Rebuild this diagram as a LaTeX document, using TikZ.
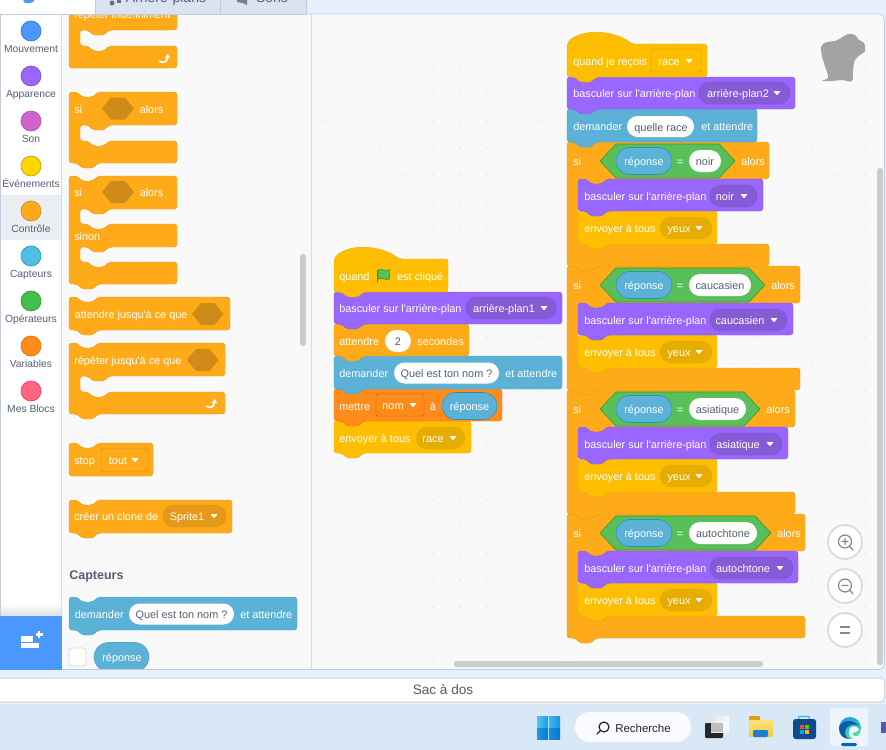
\documentclass[tikz,border=0pt]{standalone}
\usepackage{fontspec}
\usetikzlibrary{arrows.meta}
\newfontfamily\libf{Liberation Sans}
\definecolor{ctrl}{HTML}{FFAB19}\definecolor{ctrlD}{HTML}{E69C1E}\definecolor{ctrlH}{HTML}{CF8B17}
\definecolor{looks}{HTML}{9966FF}\definecolor{looksD}{HTML}{8A5CE6}\definecolor{looksP}{HTML}{855CD6}\definecolor{looksE}{HTML}{774DCB}
\definecolor{sens}{HTML}{5CB1D6}\definecolor{sensD}{HTML}{4FA6CC}\definecolor{sensE}{HTML}{2E8EB8}
\definecolor{evt}{HTML}{FFBF00}\definecolor{evtD}{HTML}{E0AC10}\definecolor{evtP}{HTML}{E6AC00}
\definecolor{vari}{HTML}{FF8C1A}\definecolor{variD}{HTML}{E87A10}
\definecolor{oper}{HTML}{59C059}\definecolor{operD}{HTML}{389438}
\definecolor{ink}{HTML}{575E75}\definecolor{panel}{HTML}{F9F9F9}\definecolor{edge}{HTML}{C1CBDF}
\definecolor{tabc}{HTML}{D9E3F2}\definecolor{pale}{HTML}{E6F0FF}\definecolor{taskb}{HTML}{D9E8F6}
\definecolor{gray1}{HTML}{D9D9D9}\definecolor{sprite}{HTML}{A3A3A3}\definecolor{extb}{HTML}{4C97FF}
\definecolor{selcat}{HTML}{E9EEF2}
\tikzset{
  blk/.style={line width=.35pt,rounded corners=2.2pt},
  bctrl/.style={blk,fill=ctrl,draw=ctrlD},
  blooks/.style={blk,fill=looks,draw=looksD},
  bsens/.style={blk,fill=sens,draw=sensD},
  bevt/.style={blk,fill=evt,draw=evtD},
  bvar/.style={blk,fill=vari,draw=variD},
  plooks/.style={fill=looksP,draw=looksE,line width=.25pt},
  pevt/.style={fill=evtP,draw=evtD,line width=.25pt},
  pctrl/.style={fill=ctrlH!55!ctrl,draw=ctrlH,line width=.25pt},
  pwhite/.style={fill=white,draw=none},
  psens/.style={fill=sens,draw=sensE,line width=.4pt},
  wt/.style={anchor=west,inner sep=0pt,text height=7.2pt,text depth=0pt,text=white,font=\libf\fontsize{8.15}{10}\selectfont},
  wc/.style={wt,anchor=center},
  dc/.style={wc,text=ink},
  catlab/.style={anchor=center,inner sep=0pt,text height=6.4pt,text depth=0pt,text=ink,font=\libf\fontsize{7.75}{9}\selectfont},
  cat/.style={line width=.5pt},
  zoombtn/.style={fill=white,draw=gray1,line width=1.2pt},
  zoomink/.style={draw=ink!75,line width=.9pt,line cap=round},
  rept/.style={draw=white,line width=1.3pt,-{Stealth[length=3.4pt,width=4.6pt]}},
  griddot/.style={fill=black!14},
  tabtxt/.style={wc,text=ink,font=\libf\fontsize{10.5}{12}\selectfont}
}
\newcount\tnum
\newcommand\Tx[4][wt]{\global\advance\tnum by 1 \node[#1] (t\the\tnum) at ({#2},{#3}) {#4};}
\def\ETop#1#2#3{(#1,#2) -- ({#1+8},#2) -- ({#1+13},{#2+5}) -- ({#1+24},{#2+5}) -- ({#1+29},#2) -- (#3,#2)}
\def\EBot#1#2#3{-- (#2,#3) -- ({#1+29},#3) -- ({#1+24},{#3+5}) -- ({#1+13},{#3+5}) -- ({#1+8},#3) -- (#1,#3)}
\def\ECm#1#2#3#4{-- (#2,#3) -- ({#1+29},#3) -- ({#1+24},{#3+5}) -- ({#1+13},{#3+5}) -- ({#1+8},#3) -- (#1,#3) -- (#1,#4) -- ({#1+8},#4) -- ({#1+13},{#4+5}) -- ({#1+24},{#4+5}) -- ({#1+29},#4) -- (#2,#4)}
\newcommand\Bk[5]{\draw[#1] \ETop{#2}{#3}{#4} \EBot{#2}{#4}{#5} -- cycle;}
\newcommand\Ht[5]{\draw[#1] (#2,#3) .. controls ({#2+12},{#3-15}) and ({#2+45},{#3-15}) .. ({#2+65},#3) -- (#4,#3) \EBot{#2}{#4}{#5} -- cycle;}
\newcommand\Cb[8]{\draw[#1] \ETop{#2}{#3}{#4} \ECm{#6}{#4}{#5}{#7} \EBot{#2}{#4}{#8} -- cycle;}
\newcommand\Pl[5]{\pgfmathsetlengthmacro\prad{#4*0.375pt}\draw[#5,rounded corners=\prad] (#1,{#3-#4/2}) rectangle (#2,{#3+#4/2});}
\newcommand\Rc[5]{\draw[#5,rounded corners=1.5pt] (#1,{#3-#4/2}) rectangle (#2,{#3+#4/2});}
\newcommand\Hx[6]{\fill[#6] (#1,#3) -- ({#1+#5},{#3-#4/2}) -- ({#2-#5},{#3-#4/2}) -- (#2,#3) -- ({#2-#5},{#3+#4/2}) -- ({#1+#5},{#3+#4/2}) -- cycle;}
\newcommand\DD[2]{\fill[white,rounded corners=.4pt] ({#1-3.6},{#2-1.8}) -- ({#1+3.6},{#2-1.8}) -- (#1,{#2+2.2}) -- cycle;}
\newcommand\Rp[2]{\draw[rept] (#1,{#2+7}) .. controls ({#1+4},{#2+10}) and ({#1+8.5},{#2+8}) .. ({#1+8.5},#2);}
\newcommand\SIG[8]{%
  \Cb{bctrl}{567}{\the\numexpr142+#1\relax}{#2}{\the\numexpr179+#1\relax}{578}{\the\numexpr244+#1\relax}{\the\numexpr266+#1\relax}
  \Bk{bevt}{578}{\the\numexpr211+#1\relax}{717}{\the\numexpr244+#1\relax}
  \Bk{blooks}{578}{\the\numexpr179+#1\relax}{#6}{\the\numexpr211+#1\relax}
  \Tx{573}{161+#1}{si}
  \Hx{600}{#3}{\the\numexpr161+#1\relax}{34}{16}{oper}
  \draw[operD,line width=.45pt] (600,{161+#1}) -- (616,{144+#1}) -- ({#3-16},{144+#1}) -- (#3,{161+#1}) -- ({#3-16},{178+#1}) -- (616,{178+#1}) -- cycle;
  \Pl{616}{672}{\the\numexpr161+#1\relax}{27}{psens}
  \Tx[wc]{644}{161+#1}{réponse}
  \Tx[wc]{680}{161+#1}{=}
  \Pl{689}{#4}{\the\numexpr161+#1\relax}{22}{pwhite}
  \Tx[dc]{(689+#4)/2}{161+#1}{#5}
  \Tx{#3+6}{161+#1}{alors}
  \Tx{584}{196+#1}{basculer sur l'arrière-plan}
  \Pl{710}{#7}{\the\numexpr196+#1\relax}{22}{plooks}
  \Tx[wc]{(710+#8-4)/2}{196+#1}{#5}
  \DD{#8}{\the\numexpr196+#1\relax}
  \Tx{584}{228+#1}{envoyer à tous}
  \Pl{660}{712}{\the\numexpr228+#1\relax}{22}{pevt}
  \Tx[wc]{679}{228+#1}{yeux}
  \DD{699}{\the\numexpr228+#1\relax}
}
\begin{document}
\begin{tikzpicture}[x=.75pt,y=-.75pt]
\useasboundingbox (0,0) rectangle (886,750);
\fill[pale] (0,0) rectangle (886,704);
\fill[taskb] (0,704) rectangle (886,750);
\draw[fill=panel,draw=edge,line width=.6pt,rounded corners=4pt] (-6,14) -- (884.5,14) -- (884.5,669.5) -- (-6,669.5) -- cycle;
\fill[white] (1,14.5) rectangle (61,669);
\fill[panel] (62,14.5) rectangle (311,669);
\draw[gray1,line width=.7pt] (61.5,14.5) -- (61.5,669);
\draw[gray1,line width=.7pt] (311.5,14.5) -- (311.5,669);
\draw[edge,line width=.9pt] (.5,14) -- (.5,669);
% dot grids
\foreach \gx in {0,...,20} \foreach \gy in {0,...,23} {\fill[griddot] ({865-27*\gx},{40+27*\gy}) circle (.75);}
\foreach \gx in {0,...,8} \foreach \gy in {0,...,23} {\fill[black!5] ({298-27*\gx},{40+27*\gy}) circle (.7);}
% category sidebar
\fill[selcat] (1,195) rectangle (61,240);
\foreach \cy/\cf/\cd/\cl in {31/4C97FF/3373CC/Mouvement,76/9966FF/774DCB/Apparence,121/CF63CF/BD42BD/Son,166/FFD500/CC9900/Événements,211/FFAB19/CF8B17/Contrôle,256/4CBFE6/2E8EB8/Capteurs,301/40BF4A/389438/Opérateurs,346/FF8C1A/DB6E00/Variables,391/FF6680/FF3355/Mes Blocs}{
  \definecolor{cf}{HTML}{\cf}\definecolor{cd}{HTML}{\cd}
  \draw[cat,fill=cf,draw=cd] (31,\cy) circle (10);
  \Tx[catlab]{31}{\cy+17.5}{\cl}
}
% extension button
\shade[top color=white,bottom color=black!12] (1,603) rectangle (61,616);
\fill[extb] (0,616) rectangle (62,670);
\fill[white] (21,636) rectangle (33,641.5);
\fill[white] (21,643) rectangle (39,648);
\fill[white] (37.8,631) rectangle (40.2,638);
\fill[white] (35.5,633.4) rectangle (42.5,635.6);
% ---- palette blocks ----
\draw[bctrl] \ETop{69}{-12}{177} \ECm{80}{177}{30}{46} -- (177,68) -- (69,68) -- cycle;
\Tx{74}{14}{répéter indéfiniment}
% tabs, above the first block
\fill[white] (0,0) rectangle (95,14);
\fill[tabc] (95,0) rectangle (306.5,14);
\draw[edge,line width=.7pt] (0,14) -- (306.5,14);
\draw[edge,line width=.7pt] (95,0) -- (95,14);
\draw[edge,line width=.7pt] (220.5,0) -- (220.5,14);
\draw[edge,line width=.7pt] (306.5,0) -- (306.5,14);
\fill[extb] (23,-1) -- (35,-1) -- (33,2) -- (30,3) -- (26,3) -- (24,2) -- cycle;
\fill[ink!90] (112,3) circle (2.5);\fill[ink!90] (117,-2) rectangle (121,3);
\Tx[tabtxt]{166}{-2}{Arrière-plans}
\fill[ink!80] (237,-1) -- (247,-1) -- (247,5) -- (243,3) -- (237,2) -- cycle;
\Tx[tabtxt]{272}{-2}{Sons}
\Rp{159}{54}
\Cb{bctrl}{69}{92}{177}{125}{80}{141}{163}
\Tx{74}{109}{si}
\Hx{102}{134}{108.5}{22}{9}{ctrlH}
\Tx{139.5}{109}{alors}
\draw[bctrl] \ETop{69}{176}{177} \ECm{80}{177}{209}{224} \ECm{80}{177}{247}{262} \EBot{69}{177}{284} -- cycle;
\Tx{74}{192}{si}
\Hx{102}{134}{192}{22}{9}{ctrlH}
\Tx{139.5}{192}{alors}
\Tx{74}{236}{sinon}
\Bk{bctrl}{69}{297}{230}{330}
\Tx{74.5}{314}{attendre jusqu'à ce que}
\Hx{192}{223.5}{314}{22}{9}{ctrlH}
\Cb{bctrl}{69}{343}{225}{376}{80}{392}{414}
\Tx{74}{360}{répéter jusqu'à ce que}
\Hx{187}{218.5}{360}{22}{9}{ctrlH}
\Rp{206}{399}
\draw[bctrl] \ETop{69}{443}{153} -- (153,476) -- (69,476) -- cycle;
\Tx{74}{460}{stop}
\Rc{101}{148}{460}{23}{fill=ctrl,draw=ctrlH,line width=.35pt}
\Tx[wc]{118}{460}{tout}
\DD{135}{460}
\Bk{bctrl}{69}{500}{232}{533}
\Tx{74}{516}{créer un clone de}
\Pl{163}{226}{516}{22}{pctrl}
\Tx[wc]{187}{516}{Sprite1}
\DD{214}{516}
\Tx[anchor=west,inner sep=0pt,text=ink,font=\libf\bfseries\fontsize{9.4}{11}\selectfont]{69}{576.5}{Capteurs}
\Bk{bsens}{69}{597}{297}{630}
\Tx{74.5}{614}{demander}
\Pl{129}{234}{614}{21}{pwhite}
\Tx[dc]{181.5}{614}{Quel est ton nom ?}
\Tx{240}{614}{et attendre}
\draw[fill=white,draw=gray1,line width=.6pt,rounded corners=2pt] (69,648) rectangle (86,666);
\begin{scope}
\clip (62,600) rectangle (311,668.5);
\Pl{94}{149}{657}{29}{psens,draw=sensD}
\end{scope}
\Tx[wc]{122}{657}{réponse}
\fill[black!20,rounded corners=2pt] (300,254) rectangle (306,346);
% ---- left script ----
\Bk{bevt}{334}{421}{471}{453}
\Bk{bvar}{334}{389}{502}{421}
\Bk{bsens}{334}{356}{562}{389}
\Bk{bctrl}{334}{324}{469}{356}
\Bk{blooks}{334}{292}{562}{324}
\Ht{bevt}{334}{259}{448}{292}
\Tx{339}{276}{quand}
\fill[operD] (376.5,269.5) rectangle (378,283);
\draw[fill=oper,draw=operD,line width=.4pt] (378,270) .. controls (382,267.5) and (386,272.5) .. (390,269.5) -- (389.5,279) .. controls (386,281) and (382,277) .. (378,279) -- cycle;
\Tx{397}{276}{est cliqué}
\Tx{339}{308}{basculer sur l'arrière-plan}
\Pl{466}{556}{308}{22}{plooks}
\Tx[wc]{504}{308}{arrière-plan1}
\DD{544}{308}
\Tx{339}{341}{attendre}
\Pl{385}{411}{341}{22}{pwhite}
\Tx[dc]{398}{341}{2}
\Tx{417}{341}{secondes}
\Tx{339}{373}{demander}
\Pl{394}{499}{373}{21}{pwhite}
\Tx[dc]{446.5}{373}{Quel est ton nom ?}
\Tx{505}{373}{et attendre}
\Tx{339}{406}{mettre}
\Rc{376}{424}{405}{22}{fill=vari,draw=variD!80!black,line width=.35pt}
\Tx[wc]{393}{405}{nom}
\DD{413}{405}
\Tx[wc]{433}{406}{à}
\Pl{442}{497}{406}{27}{psens}
\Tx[wc]{469.5}{406}{réponse}
\Tx{339}{438}{envoyer à tous}
\Pl{416}{465}{438}{22}{pevt}
\Tx[wc]{433}{438}{race}
\DD{453}{438}
% ---- right script ----
\SIG{372}{805}{771}{757}{autochtone}{798}{793}{780}
\SIG{248}{795}{760}{746}{asiatique}{788}{782}{770}
\SIG{124}{800}{765}{751}{caucasien}{793}{787}{774}
\SIG{0}{769}{735}{721}{noir}{763}{757}{744}
\Bk{bsens}{567}{109}{757}{142}
\Bk{blooks}{567}{77}{795}{109}
\Ht{bevt}{567}{44}{707}{77}
\Tx{573}{61}{quand je reçois}
\Rc{651}{701}{60.5}{23}{fill=evt,draw=evtD!85!black,line width=.35pt}
\Tx[wc]{669}{61}{race}
\DD{689}{61}
\Tx{573}{93}{basculer sur l'arrière-plan}
\Pl{699}{790}{93}{22}{plooks}
\Tx[wc]{738}{93}{arrière-plan2}
\DD{777}{93}
\Tx{573}{126}{demander}
\Pl{627}{694}{126.5}{21}{pwhite}
\Tx[dc]{661}{126.5}{quelle race}
\Tx{701}{126}{et attendre}
% sprite silhouette
\fill[sprite] plot[smooth cycle,tension=.6] coordinates {(821,47) (827,42) (835,41) (841,38) (848,34) (855,35) (859,40) (864,43) (865,51) (860,55) (855,60) (853,70) (852,81) (842,80) (832,81) (822,81) (828,78) (827,72) (823,60)};
\fill[black!20,rounded corners=2pt] (877,168) rectangle (883,665);
\fill[black!20,rounded corners=2pt] (454,661) rectangle (763,667);
% zoom buttons
\draw[zoombtn] (845,542) circle (17);
\draw[zoombtn] (845,586) circle (17);
\draw[zoombtn] (845,630) circle (17);
\draw[zoomink] (845,541.5) circle (6.5) (849.7,546.2) -- (853,550) (842,541.5) -- (848,541.5) (845,538.5) -- (845,544.5);
\draw[zoomink] (845,585.5) circle (6.5) (849.7,590.2) -- (853,594) (842,585.5) -- (848,585.5);
\draw[zoomink,line width=1.2pt,line cap=butt] (840,627) -- (850,627) (840,633) -- (850,633);
% backpack
\draw[fill=white,draw=gray1,line width=.9pt,rounded corners=3pt] (0,678) -- (884.5,678) -- (884.5,702) -- (0,702);
\Tx[anchor=center,inner sep=0pt,text=black!65,font=\libf\fontsize{10.2}{12}\selectfont]{443}{690}{Sac à dos}
% windows logo
\definecolor{win1}{HTML}{4CC5F5}\definecolor{win2}{HTML}{1A9BE8}\definecolor{win3}{HTML}{0A78D2}
\shade[left color=win1,right color=win2] (537,716) rectangle (548,727);
\shade[left color=win1!70!win2,right color=win2!70!win3] (549,716) rectangle (560,727);
\shade[left color=win2,right color=win3] (537,728) rectangle (548,739);
\shade[left color=win2!60!win3,right color=win3] (549,728) rectangle (560,739);
% search
\fill[blue!2!white,rounded corners=11pt] (575,712) rectangle (691,742);
\draw[black!85,line width=.9pt,line cap=round] (604,727) circle (5) (600.3,730.7) -- (597,734);
\Tx[anchor=west,inner sep=0pt,text=black!85,font=\libf\fontsize{8.6}{10}\selectfont]{615}{728}{Recherche}
% task view
\fill[black!85,rounded corners=.8pt] (705,723) rectangle (723,738);
\shade[left color=black!10,right color=black!2] (711,716) rectangle (729,732);
\fill[black!25] (711,723) rectangle (723,732);
% folder
\definecolor{fold1}{HTML}{D9A012}\definecolor{fold2}{HTML}{FCE27A}\definecolor{fold3}{HTML}{F9CB3C}\definecolor{fold4}{HTML}{1E7FD0}
\fill[fold1,rounded corners=.8pt] (749,716) rectangle (760,724);
\shade[top color=fold2,bottom color=fold3,rounded corners=.8pt] (749,720) rectangle (773,737);
\fill[fold4,rounded corners=.8pt] (753,730) rectangle (768,737);
% store
\definecolor{store1}{HTML}{0F4A8A}\definecolor{store2}{HTML}{35B5E8}
\draw[store2,line width=.9pt] (798,721) -- (799,716.5) -- (809,716.5) -- (810,721);
\fill[store1,rounded corners=2pt] (793,719) rectangle (816,739);
\definecolor{msr}{HTML}{F25022}\definecolor{msg}{HTML}{7FBA00}\definecolor{msb}{HTML}{00A4EF}\definecolor{msy}{HTML}{FFB900}
\fill[msr] (800,725) rectangle (804,729);\fill[msg] (804.7,725) rectangle (808.7,729);
\fill[msb] (800,729.7) rectangle (804,733.7);\fill[msy] (804.7,729.7) rectangle (808.7,733.7);
% edge
\definecolor{edgeT}{HTML}{EEF4FB}\definecolor{edgeB}{HTML}{0C59A4}\definecolor{edgeC}{HTML}{1BA1E2}\definecolor{edgeG}{HTML}{50E6A0}\definecolor{edgeU}{HTML}{0067C0}
\fill[edgeT,rounded corners=2pt] (830,708) rectangle (868,746);
\fill[edgeU,rounded corners=1pt] (841,743) rectangle (857,746);
\shade[left color=edgeC,right color=edgeG,shading angle=20] (850,728) circle (11);
\fill[edgeB] (839,728) .. controls (840,722) and (851,716) .. (860,727) .. controls (855,722) and (846,724) .. (845,732) .. controls (845,736) and (848,739) .. (850,739) .. controls (843,739) and (839,735) .. (839,728) -- cycle;
\fill[edgeT] (849,731) .. controls (849,726) and (856,724) .. (859,729) .. controls (859,732) and (853,732) .. (852,734) .. controls (854,737) and (858,737) .. (861,734) .. controls (858,741) and (848,740) .. (849,731) -- cycle;
\definecolor{teamsc}{HTML}{5558AF}
\fill[teamsc] (881,722) rectangle (886,733);
\end{tikzpicture}
\end{document}
